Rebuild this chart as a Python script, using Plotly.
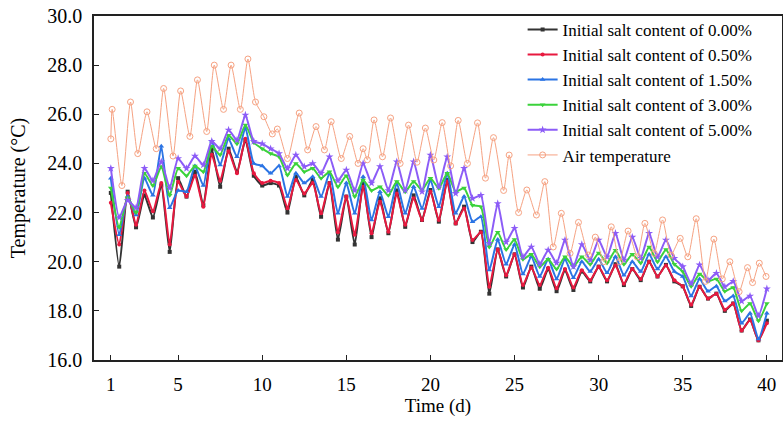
import numpy as np
import plotly.graph_objects as go

# Soil temperature sampled at half-day steps (extrema of the daily cycle)
days_soil = np.arange(1.0, 40.01, 0.5)

salt_000 = [22.8, 19.8, 22.85, 21.4, 22.7, 21.8, 23.1, 20.4, 23.4, 22.65,
            23.66, 22.3, 24.6, 23.05, 24.6, 23.66, 24.95, 23.5, 23.1, 23.2,
            23.1, 22.0, 23.46, 22.7, 23.33, 21.83, 23.2, 20.9, 22.65, 20.7,
            23.2, 21.0, 22.58, 21.16, 22.9, 21.42, 22.7, 21.7, 22.92, 21.63,
            23.33, 21.56, 22.24, 20.8, 21.22, 18.7, 20.5, 19.4, 20.3, 18.95,
            19.8, 18.9, 19.7, 18.8, 19.65, 18.85, 19.6, 19.2, 19.8, 19.2,
            19.9, 19.05, 19.7, 19.25, 20.0, 19.4, 19.87, 19.2, 19.0, 18.2,
            18.98, 18.5, 18.7, 18.0, 18.3, 17.2, 17.65, 16.8, 17.6]

salt_050 = [22.4, 20.7, 22.8, 21.5, 22.9, 22.05, 23.2, 20.7, 23.25, 22.65,
            23.5, 22.24, 24.35, 23.3, 24.5, 23.6, 25.0, 23.6, 23.2, 23.3,
            23.2, 22.18, 23.33, 22.78, 23.2, 21.97, 23.2, 21.2, 22.65, 21.1,
            23.05, 21.16, 22.44, 21.22, 22.78, 21.5, 22.58, 21.7, 22.85, 21.7,
            23.26, 21.56, 22.17, 20.88, 21.2, 18.98, 20.5, 19.45, 20.3, 19.05,
            19.75, 19.05, 19.75, 18.92, 19.7, 18.95, 19.65, 19.25, 19.8, 19.25,
            19.85, 19.1, 19.7, 19.3, 20.0, 19.4, 19.85, 19.25, 19.0, 18.25,
            18.98, 18.5, 18.7, 18.05, 18.3, 17.2, 17.63, 16.8, 17.5]

salt_150 = [23.4, 21.1, 22.65, 21.9, 23.4, 22.7, 24.7, 22.2, 22.9, 22.85,
            23.9, 23.1, 24.9, 23.94, 25.0, 24.27, 25.45, 24.0, 23.9, 23.6,
            23.9, 22.65, 23.6, 23.2, 23.46, 22.65, 23.6, 21.97, 23.2, 21.97,
            23.46, 21.7, 22.85, 21.83, 23.2, 21.97, 23.05, 22.17, 23.33, 22.24,
            23.6, 21.97, 22.65, 21.63, 21.83, 19.66, 20.9, 19.9, 20.7, 19.5,
            20.2, 19.4, 20.1, 19.3, 20.1, 19.35, 20.0, 19.6, 20.1, 19.55,
            20.2, 19.45, 20.0, 19.6, 20.3, 19.7, 20.2, 19.6, 19.4, 18.6,
            19.3, 18.8, 19.0, 18.4, 18.6, 17.5, 17.9, 16.85, 17.9]

salt_300 = [23.0, 21.4, 22.6, 22.0, 23.6, 23.1, 23.87, 22.7, 23.8, 23.5,
            23.9, 23.66, 24.7, 24.35, 25.15, 24.8, 25.56, 24.85, 24.6, 24.4,
            24.27, 23.53, 24.0, 23.66, 23.8, 23.4, 23.66, 23.05, 23.5, 22.65,
            23.33, 22.9, 23.05, 22.7, 23.26, 22.85, 23.26, 22.92, 23.4, 22.99,
            23.6, 22.85, 23.0, 22.3, 22.24, 20.6, 21.2, 20.5, 20.9, 20.1,
            20.3, 19.8, 20.1, 19.7, 20.2, 19.8, 20.2, 19.9, 20.35, 19.95,
            20.47, 19.9, 20.3, 19.95, 20.6, 20.0, 20.5, 19.9, 19.6, 19.0,
            19.5, 19.2, 19.3, 18.8, 18.95, 18.0, 18.3, 17.6, 18.3]

salt_500 = [23.8, 21.8, 22.5, 22.2, 23.8, 23.3, 24.07, 23.0, 24.2, 23.8,
            24.3, 23.94, 24.9, 24.6, 25.36, 24.95, 25.97, 24.9, 24.8, 24.6,
            24.4, 23.8, 24.34, 23.87, 24.0, 23.6, 24.27, 23.3, 23.73, 22.9,
            24.0, 23.2, 23.87, 22.9, 24.07, 22.9, 24.07, 22.85, 24.34, 23.05,
            24.27, 22.78, 23.8, 22.58, 22.7, 20.75, 22.37, 20.8, 21.36, 20.2,
            20.6, 19.9, 20.47, 19.95, 20.88, 19.8, 20.7, 20.07, 20.88, 20.2,
            21.16, 20.07, 21.0, 20.14, 21.16, 20.2, 20.88, 20.14, 19.8, 19.12,
            19.87, 19.25, 19.53, 18.98, 19.2, 18.4, 18.6, 17.8, 18.9]

# Air temperature at its daily extrema
air_days = [1.0, 1.08, 1.66, 2.17, 2.6, 3.15, 3.7, 4.14, 4.7, 5.15,
            5.7, 6.15, 6.7, 7.15, 7.7, 8.15, 8.7, 9.15, 9.6, 10.1,
            10.6, 10.9, 11.5, 12.2, 12.7, 13.2, 13.7, 14.1, 14.7, 15.2,
            15.7, 16.0, 16.25, 16.65, 17.15, 17.63, 18.2, 18.7, 19.2, 19.7,
            20.2, 20.7, 21.2, 21.65, 22.2, 22.8, 23.27, 23.75, 24.35, 24.68,
            25.24, 25.73, 26.3, 26.8, 27.3, 27.78, 28.3, 28.8, 29.4, 29.8,
            30.3, 30.75, 31.25, 31.75, 32.3, 32.75, 33.3, 33.8, 34.3, 34.85,
            35.3, 35.8, 36.35, 36.85, 37.35, 37.8, 38.35, 38.85, 39.15, 39.55,
            39.95]
air_temp = [25.0, 26.2, 23.1, 26.5, 24.4, 26.1, 24.6, 27.05, 24.3, 26.95,
            25.1, 27.4, 25.3, 28.0, 26.2, 28.0, 26.2, 28.25, 26.5, 25.9,
            25.2, 25.4, 24.2, 26.05, 24.55, 25.5, 24.55, 25.7, 24.2, 25.1,
            24.0, 24.6, 24.15, 25.77, 24.27, 25.85, 24.0, 25.56, 24.05, 25.44,
            24.14, 25.66, 23.9, 25.75, 24.0, 25.65, 23.4, 25.05, 22.9, 24.34,
            22.0, 22.92, 21.9, 23.26, 20.6, 21.97, 20.34, 21.6, 20.27, 21.0,
            20.0, 21.42, 20.0, 21.25, 20.2, 21.56, 20.34, 21.7, 20.27, 20.95,
            20.2, 21.75, 19.2, 20.92, 19.3, 20.0, 18.78, 19.76, 19.15, 19.94,
            19.4]

x_ticks = [1, 5, 10, 15, 20, 25, 30, 35, 40]

series = [
    ("Initial salt content of 0.00%", salt_000, "#333333", "square", 4),
    ("Initial salt content of 0.50%", salt_050, "#e8193f", "circle", 4),
    ("Initial salt content of 1.50%", salt_150, "#2b74e4", "triangle-up", 5),
    ("Initial salt content of 3.00%", salt_300, "#3bd23b", "triangle-down", 5),
    ("Initial salt content of 5.00%", salt_500, "#8c5cf7", "star", 6),
]

fig = go.Figure()
for name, vals, col, sym, sz in series:
    assert len(vals) == len(days_soil)
    fig.add_trace(go.Scatter(
        x=days_soil, y=vals, name=name, mode="lines+markers",
        line=dict(color=col, width=2, shape="spline", smoothing=0.5),
        marker=dict(symbol=sym, size=sz, color=col),
    ))
fig.add_trace(go.Scatter(
    x=air_days, y=air_temp, name="Air temperature", mode="lines+markers",
    line=dict(color="#f6a282", width=1, shape="spline", smoothing=0.6),
    marker=dict(symbol="circle-open", size=6, color="#f6a282", line=dict(width=1)),
))

font_family = "Liberation Serif, Times New Roman, serif"
fig.update_layout(
    width=783, height=425,
    margin=dict(l=94, r=1, t=16, b=65, autoexpand=False),
    paper_bgcolor="white", plot_bgcolor="white",
    font=dict(family=font_family, size=18, color="black"),
    showlegend=True,
    legend=dict(x=0.623, y=1.012, xanchor="left", yanchor="top",
                bgcolor="rgba(255,255,255,0)", borderwidth=0,
                font=dict(family=font_family, size=17, color="black"),
                tracegroupgap=0),
)
fig.update_xaxes(
    range=[0.0, 40.9], tickvals=x_ticks, ticktext=[str(t) for t in x_ticks],
    showline=True, linecolor="#222", linewidth=1.5, mirror=True,
    ticks="inside", ticklen=5, tickcolor="#222", showgrid=False, zeroline=False,
    automargin=False, ticklabelstandoff=6, ticklabeloverflow="allow",
    title=dict(text="Time (d)", font=dict(size=19), standoff=5),
    tickfont=dict(size=19),
)
fig.update_yaxes(
    range=[16, 30], dtick=2, tickformat=".1f",
    showline=True, linecolor="#222", linewidth=1.5, mirror=True,
    ticks="inside", ticklen=5, tickcolor="#222", showgrid=False, zeroline=False,
    automargin=False, ticklabelstandoff=6, ticklabeloverflow="allow",
    title=dict(text="Temperature (°C)", font=dict(size=20), standoff=16),
    tickfont=dict(size=20),
)

# Remove the browser's default 8 px page margin so the figure fills the window.
fig.write_html("out.html", config={"displayModeBar": False},
               post_script="document.body.style.margin = '0';")
